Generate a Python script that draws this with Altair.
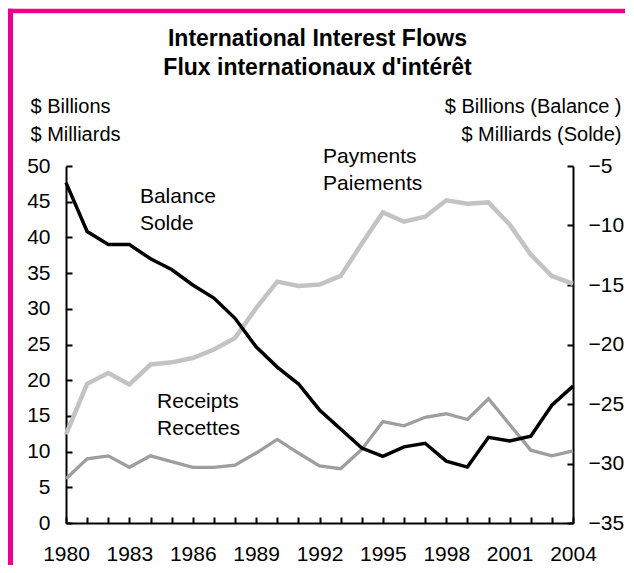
import altair as alt
import pandas as pd

# ---------------- data ----------------
years = list(range(1980, 2005))
payments = [12.4, 19.5, 21.0, 19.4, 22.2, 22.5, 23.1, 24.3, 25.9, 30.1, 33.8, 33.2, 33.4,
            34.6, 39.1, 43.5, 42.2, 42.9, 45.2, 44.7, 44.9, 41.8, 37.6, 34.6, 33.5]
receipts = [6.2, 9.0, 9.4, 7.8, 9.4, 8.6, 7.8, 7.8, 8.1, 9.8, 11.7, 9.8, 8.0,
            7.6, 10.3, 14.2, 13.6, 14.8, 15.3, 14.5, 17.4, 13.8, 10.2, 9.4, 10.1]
balance = [-6.4, -10.5, -11.6, -11.6, -12.8, -13.7, -15.0, -16.1, -17.8, -20.2, -21.9, -23.3, -25.5,
           -27.1, -28.7, -29.4, -28.6, -28.3, -29.8, -30.3, -27.8, -28.1, -27.7, -25.1, -23.5]

x_label_years = [1980, 1983, 1986, 1989, 1992, 1995, 1998, 2001, 2004]
left_ticks = [0, 5, 10, 15, 20, 25, 30, 35, 40, 45, 50]
right_ticks = [-35, -30, -25, -20, -15, -10, -5]

title_text = "International Interest Flows\nFlux internationaux d'intérêt"
left_title = ["$ Billions", "$ Milliards"]
right_title = ["$ Billions (Balance )", "$ Milliards (Solde)"]

label_text = ["Balance\nSolde", "Payments\nPaiements", "Receipts\nRecettes"]
label_year = [1983.5, 1992.17, 1984.31]
label_value = [44.86, 50.46, 16.15]

# ---------------- layout ----------------
W, H = 507, 357
FONT = "Liberation Sans"
MAGENTA = "#EC008C"

df = pd.DataFrame({"year": years, "Payments": payments, "Receipts": receipts, "Balance": balance})
long = df.melt(id_vars="year", value_vars=["Payments", "Receipts"], var_name="series", value_name="value")
lab_df = pd.DataFrame({"text": label_text, "year": label_year, "value": label_value})
one = pd.DataFrame({"t": [title_text]})

xscale = alt.Scale(domain=[1980, 2004], nice=False, zero=False)
lscale = alt.Scale(domain=[0, 50], nice=False, zero=False)
rscale = alt.Scale(domain=[-35, -5], nice=False, zero=False)

flows = alt.Chart(long).mark_line().encode(
    x=alt.X("year:Q", scale=xscale,
            axis=alt.Axis(values=x_label_years, format="d", ticks=False, labelPadding=20,
                          title=None, labelFlush=False, labelOverlap=False)),
    y=alt.Y("value:Q", scale=lscale,
            axis=alt.Axis(orient="left", values=left_ticks, ticks=False, labelPadding=16,
                          title=left_title, titleAngle=0, titleAlign="left",
                          titleBaseline="alphabetic", titleX=-36, titleY=-54,
                          titleLineHeight=28, labelOverlap=False)),
    color=alt.Color("series:N", scale=alt.Scale(domain=["Payments", "Receipts"],
                                                 range=["#C3C3C3", "#9E9E9E"]), legend=None),
    strokeWidth=alt.StrokeWidth("series:N", scale=alt.Scale(domain=["Payments", "Receipts"],
                                                            range=[4.5, 3.3]), legend=None),
)

bal = alt.Chart(df).mark_line(color="black", strokeWidth=3.5).encode(
    x=alt.X("year:Q", scale=xscale, axis=None),
    y=alt.Y("Balance:Q", scale=rscale,
            axis=alt.Axis(orient="right", values=right_ticks, ticks=False, labelPadding=15,
                          title=right_title, titleAngle=0, titleAlign="right",
                          titleBaseline="alphabetic", titleX=48, titleY=-54,
                          titleLineHeight=28, labelOverlap=False)),
)

# inward tick marks (axes moved onto the opposite side of the plot)
tick_l = alt.Chart(df).mark_line(opacity=0).encode(
    x=alt.X("year:Q", scale=xscale,
            axis=alt.Axis(orient="top", offset=-H, values=years, labels=False, domain=False,
                          tickSize=6, tickWidth=2, title=None)),
    y=alt.Y("Payments:Q", scale=lscale,
            axis=alt.Axis(orient="right", offset=-W, values=left_ticks, labels=False,
                          domain=False, tickSize=6, tickWidth=2, title=None)),
)
tick_r = alt.Chart(df).mark_line(opacity=0).encode(
    x=alt.X("year:Q", scale=xscale, axis=None),
    y=alt.Y("Balance:Q", scale=rscale,
            axis=alt.Axis(orient="left", offset=-W, values=right_ticks, labels=False,
                          domain=False, tickSize=6, tickWidth=2, title=None)),
)

labels = alt.Chart(lab_df).mark_text(
    align="left", baseline="alphabetic", fontSize=21, lineBreak="\n", lineHeight=27,
    font=FONT, color="black"
).encode(
    x=alt.X("year:Q", scale=xscale, axis=None),
    y=alt.Y("value:Q", scale=lscale, axis=None),
    text="text:N",
)

title = alt.Chart(one).mark_text(
    align="center", baseline="alphabetic", fontSize=23, fontWeight="bold", lineBreak="\n",
    lineHeight=29, font=FONT, color="black"
).encode(x=alt.value(W / 2 - 2), y=alt.value(-120), text="t:N")

border_top = alt.Chart(one).mark_rule(color=MAGENTA, strokeWidth=4.5, strokeCap="butt").encode(
    x=alt.value(-58), x2=alt.value(W + 60), y=alt.value(-155))
border_left = alt.Chart(one).mark_rule(color=MAGENTA, strokeWidth=5, strokeCap="butt").encode(
    x=alt.value(-55.5), y=alt.value(-157.2), y2=alt.value(H + 50))

chart = alt.layer(
    border_top, border_left, title, tick_l, tick_r, flows, bal, labels
).resolve_scale(
    y="independent"
).resolve_axis(
    x="independent", y="independent"
).properties(
    width=W, height=H,
    autosize=alt.AutoSizeParams(type="none"),
    padding={"left": 58, "top": 158, "right": 52, "bottom": 42},
    background="white",
).configure_axis(
    grid=False, domainColor="black", domainWidth=2, tickColor="black",
    labelFont=FONT, labelFontSize=21, labelColor="black",
    titleFont=FONT, titleFontSize=20, titleFontWeight="normal", titleColor="black",
).configure_view(
    stroke=None
)

chart.save("out.html", embed_options={"renderer": "svg", "actions": False})
